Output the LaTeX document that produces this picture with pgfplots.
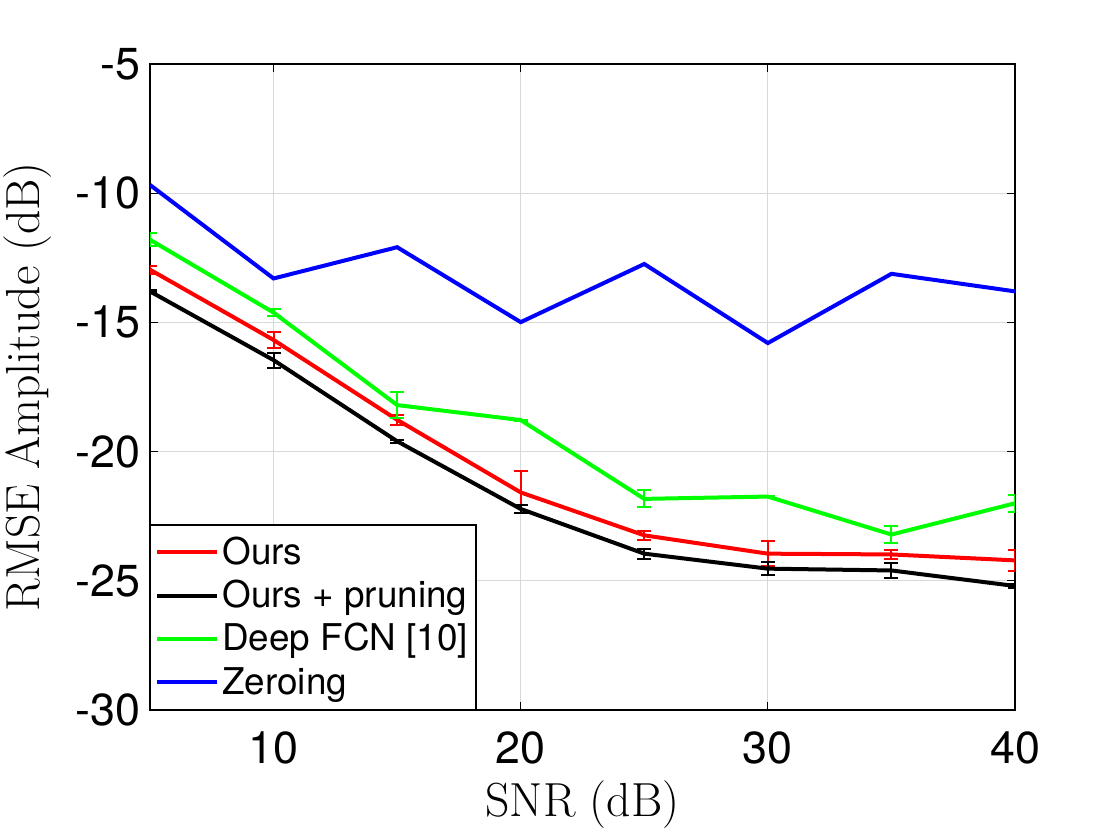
\documentclass[border=0pt]{standalone}
\usepackage{fontspec}
\newfontfamily\helv{TeX Gyre Heros}
\usepackage{pgfplots}
\pgfplotsset{compat=1.18}
\begin{document}
\begin{tikzpicture}
\begin{axis}[
  scale only axis, width=432.5bp, height=323bp,
  xmin=5, xmax=40, ymin=-30, ymax=-5,
  xtick={10,20,30,40}, xticklabels={10,20,30,40},
  ytick={-30,-25,-20,-15,-10,-5}, yticklabels={-30,-25,-20,-15,-10,-5},
  tick align=inside, major tick length=4bp,
  tick style={black, line width=0.6bp},
  axis line style={black, line width=0.75bp},
  grid=major, grid style={gray!30, line width=0.5bp},
  ticklabel style={font=\helv\fontsize{22.5}{26}\selectfont},
  xticklabel style={yshift=-7.5bp},
  yticklabel style={xshift=-1.2bp},
  xlabel={SNR (dB)}, ylabel={RMSE Amplitude (dB)},
  label style={font=\fontsize{24}{28}\selectfont},
  xlabel style={at={(axis description cs:0.5,-0.147)}, anchor=center},
  ylabel style={at={(axis description cs:-0.141,0.5)}, anchor=center},
  legend cell align=left,
  legend image code/.code={\draw[#1, line width=2bp] (0bp,0bp) -- (30bp,0bp);},
  legend style={at={(0,0)}, anchor=south west, draw=black, line width=0.75bp,
    font=\helv\fontsize{18.5}{21}\selectfont, inner xsep=2bp, inner ysep=2.8bp,
    row sep=0pt,
    nodes={inner xsep=1.8bp, inner ysep=2bp, text height=14.8bp, text depth=2.8bp}},
]
\addplot[red, line width=2bp, error bars/.cd, y dir=both, y explicit,
  error bar style={line width=1bp},
  error mark options={rotate=90, mark size=3.5bp, line width=1bp}]
  coordinates {(5,-12.96) +- (0,0.15) (10,-15.68) +- (0,0.31) (15,-18.77) +- (0,0.2)
  (20,-21.58) +- (0,0.81) (25,-23.24) +- (0,0.18) (30,-23.95) +- (0,0.48)
  (35,-23.98) +- (0,0.17) (40,-24.21) +- (0,0.42)};
\addlegendentry{Ours}
\addplot[black, line width=2bp, error bars/.cd, y dir=both, y explicit,
  error bar style={line width=1bp},
  error mark options={rotate=90, mark size=3.5bp, line width=1bp}]
  coordinates {(5,-13.8) +- (0,0.04) (10,-16.46) +- (0,0.29) (15,-19.6) +- (0,0.05)
  (20,-22.22) +- (0,0.16) (25,-23.95) +- (0,0.19) (30,-24.53) +- (0,0.24)
  (35,-24.6) +- (0,0.3) (40,-25.2) +- (0,0.08)};
\addlegendentry{Ours + pruning}
\addplot[green, line width=2bp, error bars/.cd, y dir=both, y explicit,
  error bar style={line width=1bp},
  error mark options={rotate=90, mark size=3.5bp, line width=1bp}]
  coordinates {(5,-11.8) +- (0,0.26) (10,-14.62) +- (0,0.12) (15,-18.2) +- (0,0.5)
  (20,-18.78) +- (0,0.02) (25,-21.83) +- (0,0.33) (30,-21.74) +- (0,0.02)
  (35,-23.21) +- (0,0.34) (40,-22.0) +- (0,0.32)};
\addlegendentry{Deep FCN [10]}
\addplot[blue, line width=2bp]
  coordinates {(5,-9.68) (10,-13.3) (15,-12.09) (20,-14.99) (25,-12.74)
  (30,-15.8) (35,-13.12) (40,-13.8)};
\addlegendentry{Zeroing}
\end{axis}
\pgfresetboundingbox
\path[use as bounding box] (-75bp,-65bp) rectangle (485bp,355bp);
\end{tikzpicture}
\end{document}
